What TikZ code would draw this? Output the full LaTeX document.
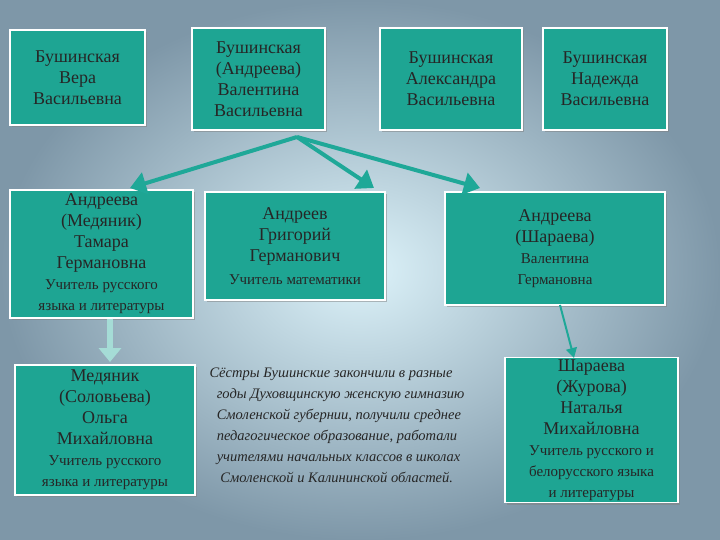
\documentclass[tikz,border=0pt]{standalone}
\usepackage{fontspec}
\setmainfont{Liberation Serif}
\usetikzlibrary{shadows,arrows.meta}
\definecolor{teal1}{HTML}{1EA593}
\definecolor{bgout}{HTML}{7E97A8}
\definecolor{bgin}{HTML}{DDF3FA}
\definecolor{arr}{HTML}{1FA898}
\newcommand{\sm}{\fontsize{15}{18}\selectfont}
\tikzset{
 box/.style={draw=white,line width=1.2pt,fill=teal1,drop shadow={opacity=0.5,shadow xshift=2pt,shadow yshift=-2pt},align=center,font=\fontsize{18}{21}\selectfont,text=black!85,inner sep=2pt},
 conn/.style={draw=arr,line width=4pt,-{Triangle[length=16pt,width=22pt]}},
}
\begin{document}
\begin{tikzpicture}[x=1pt,y=-1pt]
\shade[inner color=bgin,outer color=bgout] (0,0) rectangle (720,540);
\useasboundingbox (0,0) rectangle (720,540);
\node[box,minimum width=135,minimum height=95] (a) at (77.5,77.5) {Бушинская\\Вера\\Васильевна};
\node[box,minimum width=133,minimum height=102] (b) at (258.5,79) {Бушинская\\(Андреева)\\Валентина\\Васильевна};
\node[box,minimum width=142,minimum height=102] (c) at (451,79) {Бушинская\\Александра\\Васильевна};
\node[box,minimum width=124,minimum height=102] (d) at (605,79) {Бушинская\\Надежда\\Васильевна};
\node[box,minimum width=183,minimum height=128] (e) at (101.5,254) {Андреева\\(Медяник)\\Тамара\\Германовна\\{\sm Учитель русского}\\{\sm языка и литературы}};
\node[box,minimum width=180,minimum height=108] (f) at (295,246) {Андреев\\Григорий\\Германович\\[2pt]{\sm Учитель математики}};
\node[box,minimum width=220,minimum height=113] (g) at (555,248.5) {Андреева\\(Шараева)\\{\sm Валентина}\\{\sm Германовна}};
\node[box,minimum width=180,minimum height=130] (h) at (105,430) {Медяник\\(Соловьева)\\Ольга\\Михайловна\\{\sm Учитель русского}\\{\sm языка и литературы}};
\node[box,minimum width=173,minimum height=140] (i) at (591.5,430) {Шараева\\(Журова)\\Наталья\\Михайловна\\{\sm Учитель русского и}\\{\sm белорусского языка}\\{\sm и литературы}};
\node[align=left,font=\itshape\fontsize{14.5}{21}\selectfont,text=black!85] (t) at (337,425) {Сёстры Бушинские закончили в разные\\\ \ годы Духовщинскую женскую гимназию\\\ \ Смоленской губернии, получили среднее\\\ \ педагогическое образование, работали\\\ \ учителями начальных классов в школах\\\ \ \ Смоленской и Калининской областей.};
\coordinate (s) at (297,137);
\draw[conn] (s) -- (130,188);
\draw[conn] (s) -- (374,188);
\draw[conn] (s) -- (480,188);
\draw[draw=arr!40,line width=6pt,-{Triangle[length=14pt,width=22pt]}] (e.south -| 110,0) -- (110,362);
\draw[draw=arr,line width=2pt,-{Triangle[length=10pt,width=11pt]}] (560,305) -- (574,358);
\end{tikzpicture}
\end{document}
